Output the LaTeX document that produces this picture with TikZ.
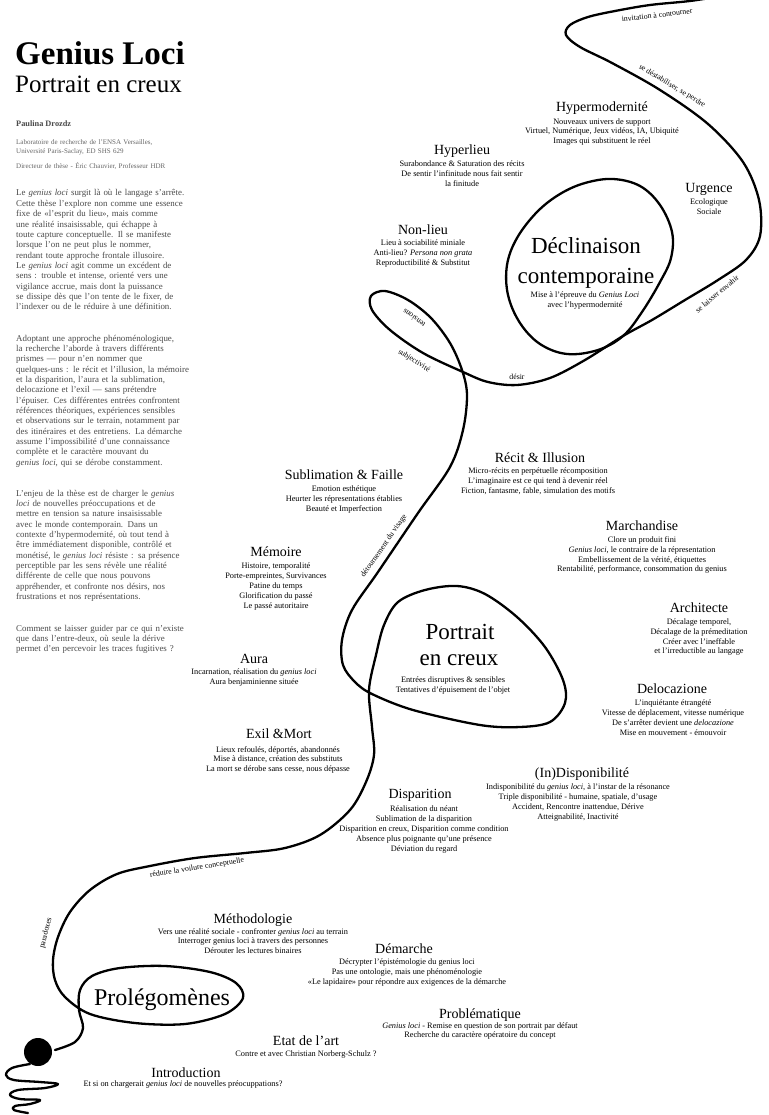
\documentclass[tikz,border=0pt]{standalone}
\usepackage{fontspec}
\setmainfont{Liberation Serif}
\definecolor{bodygray}{HTML}{4A4A4A}
\definecolor{labgray}{HTML}{666666}

\begin{document}
\begin{tikzpicture}[x=1pt, y=-1pt,
    drift/.style={line width=2.3pt, line cap=round, line join=round},
    head/.style={font=\fontsize{14}{16}\selectfont, anchor=base, inner sep=0pt},
    sub/.style={font=\fontsize{8.3}{9.8}\selectfont, align=center, anchor=north, inner sep=0pt},
    big/.style={font=\fontsize{23}{26}\selectfont, anchor=base, inner sep=0pt},
    along/.style={font=\fontsize{7.8}{9}\selectfont, inner sep=0pt},
    para/.style={font=\fontsize{8.9}{10.35}\selectfont, text=bodygray, text width=190pt, align=left, anchor=base west, inner sep=0pt}]
                \useasboundingbox (0,0) rectangle (768,1115);
                \fill[white] (0,0) rectangle (768,1115);

                % colonne de gauche
                \node[anchor=base west, inner sep=0pt, font=\fontsize{33}{36}\selectfont\bfseries] (title) at (15,65) {Genius Loci};
                \node[anchor=base west, inner sep=0pt, font=\fontsize{25}{28}\selectfont] (subtitle) at (15,93) {Portrait en creux};
                \node[anchor=base west, inner sep=0pt, font=\fontsize{8.3}{10}\selectfont\bfseries, text=bodygray] (author) at (16,127) {Paulina Drozdz};
                \node[para, font=\fontsize{7}{8.5}\selectfont, text=labgray] (lab) at (16,145) {Laboratoire de recherche de l’ENSA Versailles,\\Université Paris-Saclay, ED SHS 629};
                \node[para, font=\fontsize{7}{8.5}\selectfont, text=labgray] (dir) at (16,169) {Directeur de thèse - Éric Chauvier, Professeur HDR};

                \node[para] (p1) at (16,196) {Le \textit{genius loci} surgit là où le langage s’arrête.\\
                    Cette thèse l’explore non comme une essence\\
                    fixe de «l’esprit du lieu», mais comme\\
                    une réalité insaisissable, qui échappe à\\
                    toute capture conceptuelle. Il se manifeste\\
                    lorsque l’on ne peut plus le nommer,\\
                    rendant toute approche frontale illusoire.\\
                    Le \textit{genius loci} agit comme un excédent de\\
                    sens : trouble et intense, orienté vers une\\
                    vigilance accrue, mais dont la puissance\\
                    se dissipe dès que l’on tente de le fixer, de\\
                    l’indexer ou de le réduire à une définition.};
                \node[para] (p2) at (16,341) {Adoptant une approche phénoménologique,\\
                    la recherche l’aborde à travers différents\\
                    prismes — pour n’en nommer que\\
                    quelques-uns : le récit et l’illusion, la mémoire\\
                    et la disparition, l’aura et la sublimation,\\
                    delocazione et l’exil — sans prétendre\\
                    l’épuiser. Ces différentes entrées confrontent\\
                    références théoriques, expériences sensibles\\
                    et observations sur le terrain, notamment par\\
                    des itinéraires et des entretiens. La démarche\\
                    assume l’impossibilité d’une connaissance\\
                    complète et le caractère mouvant du\\
                    \textit{genius loci}, qui se dérobe constamment.};
                \node[para] (p3) at (16,496) {L’enjeu de la thèse est de charger le \textit{genius}\\
                    \textit{loci} de nouvelles préoccupations et de\\
                    mettre en tension sa nature insaisissable\\
                    avec le monde contemporain. Dans un\\
                    contexte d’hypermodernité, où tout tend à\\
                    être immédiatement disponible, contrôlé et\\
                    monétisé, le \textit{genius loci} résiste : sa présence\\
                    perceptible par les sens révèle une réalité\\
                    différente de celle que nous pouvons\\
                    appréhender, et confronte nos désirs, nos\\
                    frustrations et nos représentations.};
                \node[para] (p4) at (16,631) {Comment se laisser guider par ce qui n’existe\\
                    que dans l’entre-deux, où seule la dérive\\
                    permet d’en percevoir les traces fugitives ?};

                % la ligne de dérive
                \draw[drift] plot[smooth, tension=0.55] coordinates {
                    (722,-4) (690,1) (650,5) (615,11) (588,17) (570,25) (566,35) (580,47)
                    (612,63) (660,90) (708,124) (743,162) (759,200) (760,236) (746,260)
                    (718,280) (685,300) (652,320) (623,336) (585,360) (550,378) (517,385)
                    (488,382) (463,372) (423,353) (390,330) (372,310) (371,296) (385,291)
                    (408,300) (431,318) (450,343) (462,370) (467,395) (463,430) (450,467)
                    (418,513) (378,572) (352,610) (342,640) (343,665) (355,682) (372,694)
                    (413,710) (480,725) (520,727) (550,722) (565,703) (563,680) (545,647)
                    (517,617) (485,594) (457,586) (425,590) (398,602) (384,625) (376,655)
                    (369,690) (372,727) (374,755) (366,782) (350,810) (320,835) (285,848)
                    (245,853) (195,858) (150,866) (117,874) (90,890) (70,912) (58,937)
                    (53,960) (55,980) (65,997) (90,1014) (135,1023) (185,1024) (225,1014)
                    (243,998) (236,983) (210,972) (165,966) (120,968) (92,976) (80,990)
                    (79,1010) (83,1028) (75,1042) (55,1050)};
                \draw[drift] plot[smooth cycle, tension=0.6] coordinates {
                    (613,179) (640,186) (660,205) (672,232) (671,258) (660,282) (642,312)
                    (623,336) (598,350) (567,354) (540,344) (520,323) (508,295) (507,265)
                    (517,238) (537,212) (560,194) (585,183)};
                \draw[drift] plot[smooth, tension=0.6] coordinates {
                    (30,1064) (12,1068) (6,1075) (14,1080) (40,1082) (58,1084) (45,1088)
                    (18,1090) (10,1095) (20,1099) (40,1100) (30,1104) (15,1106) (14,1110) (28,1113)};
                \fill (38,1052) circle (14);

                % mots le long de la ligne
                \node[along, rotate=7] (invit) at (657,15) {invitation à contourner};
                \node[along, rotate=-31] (perdre) at (672,86) {se déstabiliser, se perdre};
                \node[along, rotate=40] (envahir) at (717,294) {se laisser envahir};
                \node[along] (desir) at (517,377) {désir};
                \node[along, rotate=-32] (subj) at (414,361) {subjectivité};
                \node[along, rotate=144] (tens) at (414,318) {tensions};
                \node[along, rotate=55] (visage) at (384,546) {détournement du visage};
                \node[along, rotate=9] (voilure) at (197,868) {réduire la voilure conceptuelle};
                \node[along, rotate=76] (parad) at (46,933) {paradoxes};

                % les grandes boucles
                \node[big] (decl1) at (586,254) {Déclinaison};
                \node[big] (decl2) at (586,283) {contemporaine};
                \node[sub] (decl-t) at (585,292) {Mise à l’épreuve du \textit{Genius Loci}\\avec l’hypermodernité};
                \node[big] (portr1) at (460,639) {Portrait};
                \node[big] (portr2) at (459,665) {en creux};
                \node[sub] (portr-t) at (453,676.5) {Entrées disruptives \& sensibles\\Tentatives d’épuisement de l’objet};
                \node[big, font=\fontsize{24}{26}\selectfont] (prolego) at (162,1005) {Prolégomènes};

                % les entrées
                \node[head] (hyperm) at (602,112) {Hypermodernité};
                \node[sub] (hyperm-t) at (602,118.2) {Nouveaux univers de support\\Virtuel, Numérique, Jeux vidéos, IA, Ubiquité\\Images qui substituent le réel};
                \node[head] (hyperl) at (462,155) {Hyperlieu};
                \node[sub] (hyperl-t) at (462,161) {Surabondance \& Saturation des récits\\De sentir l’infinitude nous fait sentir\\la finitude};
                \node[head] (urg) at (709,193) {Urgence};
                \node[sub] (urg-t) at (709,199) {Ecologique\\Sociale};
                \node[head] (nonlieu) at (423,235) {Non-lieu};
                \node[sub] (nonlieu-t) at (423,240) {Lieu à sociabilité miniale\\Anti-lieu? \textit{Persona non grata}\\Reproductibilité \& Substitut};
                \node[head] (recit) at (540,462) {Récit \& Illusion};
                \node[sub] (recit-t) at (538,468) {Micro-récits en perpétuelle récomposition\\L’imaginaire est ce qui tend à devenir réel\\Fiction, fantasme, fable, simulation des motifs};
                \node[head] (subl) at (344,479) {Sublimation \& Faille};
                \node[sub] (subl-t) at (344,486) {Emotion esthétique\\Heurter les répresentations établies\\Beauté et Imperfection};
                \node[head] (memo) at (276,556) {Mémoire};
                \node[sub] (memo-t) at (276,563) {Histoire, temporalité\\Porte-empreintes, Survivances\\Patine du temps\\Glorification du passé\\Le passé autoritaire};
                \node[head] (march) at (642,530) {Marchandise};
                \node[sub] (march-t) at (642,536.5) {Clore un produit fini\\\textit{Genius loci}, le contraire de la répresentation\\Embellissement de la vérité, étiquettes\\Rentabilité, performance, consommation du genius};
                \node[head] (archi) at (699,612) {Architecte};
                \node[sub] (archi-t) at (699,618.5) {Décalage temporel,\\Décalage de la prémeditation\\Créer avec l’ineffable\\et l’irreductible au langage};
                \node[head] (aura) at (254,663) {Aura};
                \node[sub] (aura-t) at (254,668.5) {Incarnation, réalisation du \textit{genius loci}\\Aura benjaminienne située};
                \node[head] (deloc) at (672,693) {Delocazione};
                \node[sub] (deloc-t) at (673,700) {L’inquiétante étrangété\\Vitesse de déplacement, vitesse numérique\\De s’arrêter devient une \textit{delocazione}\\Mise en mouvement - émouvoir};
                \node[head] (exil) at (279,738) {Exil \&Mort};
                \node[sub] (exil-t) at (278,746) {Lieux refoulés, déportés, abandonnés\\Mise à distance, création des substituts\\La mort se dérobe sans cesse, nous dépasse};
                \node[head] (indispo) at (582,777) {(In)Disponibilité};
                \node[sub] (indispo-t) at (578,784) {Indisponibilité du \textit{genius loci}, à l’instar de la résonance\\Triple disponibilité - humaine, spatiale, d’usage\\Accident, Rencontre inattendue, Dérive\\Atteignabilité, Inactivité};
                \node[head] (dispa) at (420,798) {Disparition};
                \node[sub] (dispa-t) at (424,806) {Réalisation du néant\\Sublimation de la disparition\\Disparition en creux, Disparition comme condition\\Absence plus poignante qu’une présence\\Déviation du regard};
                \node[head] (metho) at (253,923) {Méthodologie};
                \node[sub] (metho-t) at (253,928) {Vers une réalité sociale - confronter \textit{genius loci} au terrain\\Interroger genius loci à travers des personnes\\Dérouter les lectures binaires};
                \node[head] (demar) at (404,953) {Démarche};
                \node[sub] (demar-t) at (407,959) {Décrypter l’épistémologie du genius loci\\Pas une ontologie, mais une phénoménologie\\«Le lapidaire» pour répondre aux exigences de la démarche};
                \node[head] (proble) at (480,1018) {Problématique};
                \node[sub] (proble-t) at (480,1022) {\textit{Genius loci} - Remise en question de son portrait par défaut\\Recherche du caractère opératoire du concept};
                \node[head] (etat) at (306,1045) {Etat de l’art};
                \node[sub] (etat-t) at (306,1051) {Contre et avec Christian Norberg-Schulz ?};
                \node[head] (intro) at (186,1077) {Introduction};
                \node[sub] (intro-t) at (183,1081) {Et si on chargerait \textit{genius loci} de nouvelles préocuppations?};
            \end{tikzpicture}
\end{document}
